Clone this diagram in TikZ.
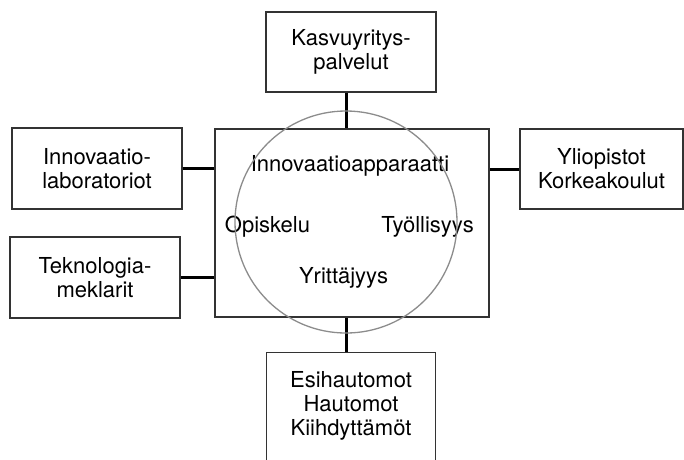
\documentclass[tikz,border=0pt]{standalone}
\usepackage{fontspec}
\setmainfont{TeX Gyre Heros}
\begin{document}
\begin{tikzpicture}[x=1pt,y=-1pt,
  box/.style={draw=black!80,line width=1.3pt,fill=white,align=center,inner sep=0pt,
    font=\fontsize{22}{24}\selectfont},
  lbl/.style={font=\fontsize{22}{24}\selectfont,inner sep=0pt},
  conn/.style={line width=3pt,black}]
\useasboundingbox (0,0) rectangle (684,459);
\coordinate (cc) at (346,222);
\node[box,minimum width=274pt,minimum height=188pt] (main) at (352,223) {};
\node[box,minimum width=170pt,minimum height=80pt] (top) at (351,52) {Kasvuyritys-\\palvelut};
\node[box,minimum width=170pt,minimum height=81pt] (l1) at (97,168.5) {Innovaatio-\\laboratoriot};
\node[box,minimum width=170pt,minimum height=81pt] (l2) at (95,277.5) {Teknologia-\\meklarit};
\node[box,minimum width=163pt,minimum height=80pt] (r1) at (601.5,169) {Yliopistot\\Korkeakoulut};
\node[box,draw=none,fill=none,minimum width=168pt,minimum height=106pt] (bot) at (351,406) {Esihautomot\\Hautomot\\Kiihdyttämöt};
\draw[draw=black!80,line width=1.3pt] (bot.south west) -- (bot.north west) -- (bot.north east) -- (bot.south east);
\draw[conn] (cc |- top.south) -- (cc |- main.north);
\draw[conn] (cc |- main.south) -- (cc |- bot.north);
\draw[conn] (l1.east) -- (l1.east -| main.west);
\draw[conn] (l2.east) -- (l2.east -| main.west);
\draw[conn] (r1.west) -- (r1.west -| main.east);
\node[lbl] (t1) at (350,166) {Innovaatioapparaatti};
\node[lbl] (t2) at (267.5,227) {Opiskelu};
\node[lbl] (t3) at (427.5,227) {Työllisyys};
\node[lbl] (t4) at (343.5,278) {Yrittäjyys};
\draw[black!45,line width=1.3pt] (cc) circle (111pt);
\end{tikzpicture}
\end{document}
